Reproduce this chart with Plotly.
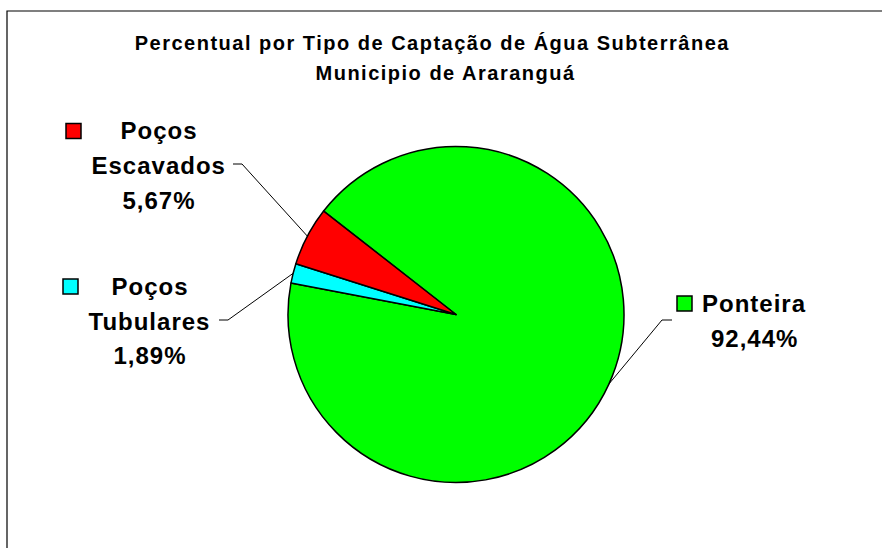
import math
import plotly.graph_objects as go

W, H = 882, 548

# Data
categories = ["Ponteira", "Poços Tubulares", "Poços Escavados"]
percentages = [92.44, 1.89, 5.67]
slice_colors = ["#00FF00", "#00FFFF", "#FF0000"]
title_lines = ["Percentual por Tipo de Captação de Água Subterrânea",
               "Municipio de Araranguá"]

# Geometry / styling (pixels, origin top-left)
CX, CY, R = 456, 314.5, 168
ROTATION = -52
LINE_STEP = 34.5
FONT = "Liberation Sans, Arial, sans-serif"
label_pos = {"Ponteira": (754, 303.5),
             "Poços Tubulares": (149.5, 286.5),
             "Poços Escavados": (158.5, 131)}
key_pos = {"Ponteira": (684.5, 303.5),
           "Poços Tubulares": (70.5, 286.5),
           "Poços Escavados": (73.5, 131)}
leader_start = {"Ponteira": [(672, 320), (662, 320)],
                "Poços Tubulares": [(219, 320), (228, 320)],
                "Poços Escavados": [(233, 164), (242, 164)]}
title_pos = [(433, 43), (446, 73.5)]
KEY = 15


def px(x):
    return x / W


def py(y):
    return 1 - y / H


fig = go.Figure(go.Pie(
    labels=categories,
    values=percentages,
    marker=dict(colors=slice_colors, line=dict(color="black", width=1.5)),
    sort=False,
    direction="clockwise",
    rotation=ROTATION,
    textinfo="none",
    hoverinfo="skip",
    showlegend=False,
    domain=dict(x=[px(CX - R), px(CX + R)], y=[py(CY + R), py(CY - R)]),
))

annotations = []
shapes = []

# Title
for (tx, ty), line in zip(title_pos, title_lines):
    annotations.append(dict(x=px(tx), y=py(ty), xref="paper", yref="paper",
                            text=line, showarrow=False, xanchor="center",
                            yanchor="middle",
                            font=dict(family=FONT, size=20, color="black",
                                      weight="bold")))

# Slice labels, keys and leader lines
total = sum(percentages)
cum = 0.0
for name, val, col in zip(categories, percentages, slice_colors):
    mid = math.radians(ROTATION + 360 * (cum + val / 2) / total)
    cum += val
    ex, ey = CX + R * math.sin(mid), CY - R * math.cos(mid)

    lines = name.split(" ") + [f"{val:.2f}".replace(".", ",") + "%"]
    lx, ly = label_pos[name]
    for k, line in enumerate(lines):
        annotations.append(dict(x=px(lx), y=py(ly + k * LINE_STEP),
                                xref="paper", yref="paper", text=line,
                                showarrow=False, xanchor="center",
                                yanchor="middle",
                                font=dict(family=FONT, size=24, color="black",
                                          weight="bold")))

    kx, ky = key_pos[name]
    shapes.append(dict(type="rect", xref="paper", yref="paper",
                       x0=px(kx - KEY / 2), x1=px(kx + KEY / 2),
                       y0=py(ky + KEY / 2), y1=py(ky - KEY / 2),
                       fillcolor=col, line=dict(color="black", width=1.5)))

    (ax, ay), (bx, by) = leader_start[name]
    path = (f"M {px(ax)},{py(ay)} L {px(bx)},{py(by)} "
            f"L {px(ex)},{py(ey)}")
    shapes.append(dict(type="path", xref="paper", yref="paper", path=path,
                       line=dict(color="black", width=1)))

# Chart frame
shapes.append(dict(type="path", xref="paper", yref="paper",
                   path=f"M {px(7)},-0.05 L {px(7)},{py(11)} L 1.05,{py(11)}",
                   line=dict(color="black", width=1.2)))

fig.update_layout(
    width=W, height=H,
    margin=dict(l=0, r=0, t=0, b=0),
    paper_bgcolor="white", plot_bgcolor="white",
    annotations=annotations,
    shapes=shapes,
)

# Slightly widen the tracking of the bold labels
post_script = (
    "var gd=document.getElementById('{plot_id}');"
    "gd.querySelectorAll('text.annotation-text').forEach(function(t){"
    "var fs=parseFloat(t.style.fontSize);"
    "t.style.letterSpacing=(fs<22?'1.5px':'1px');});"
)

fig.write_html("out.html", config=dict(displayModeBar=False),
               post_script=post_script)
